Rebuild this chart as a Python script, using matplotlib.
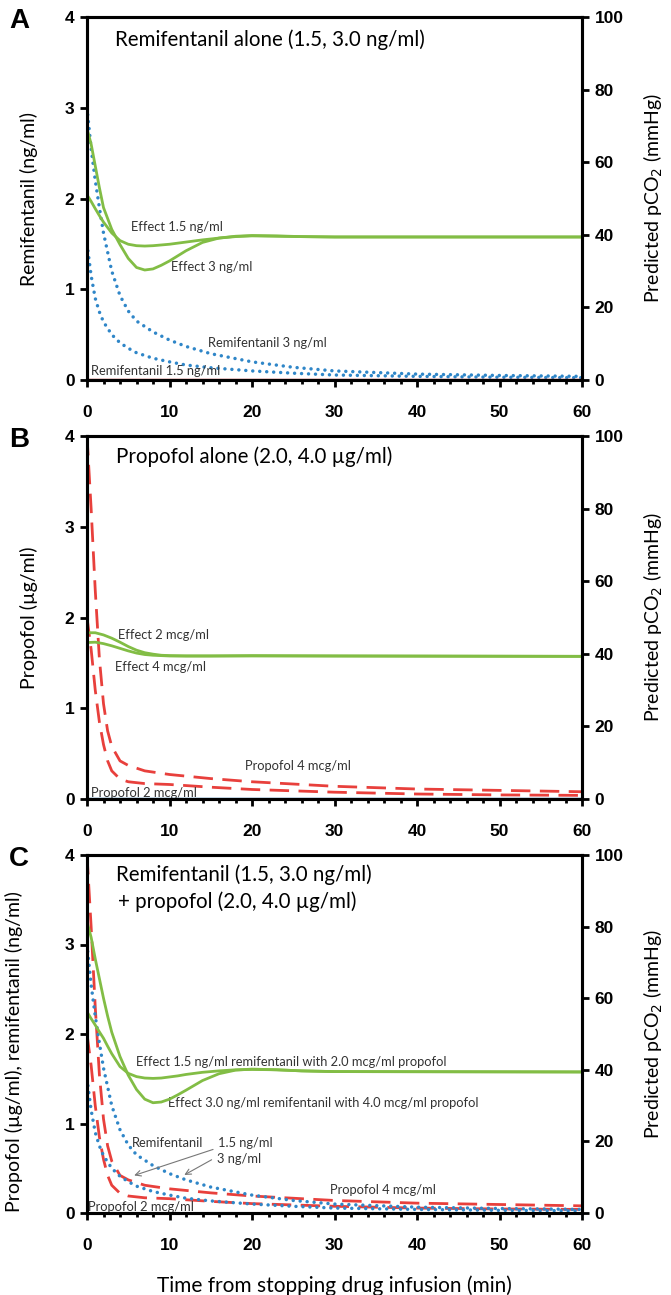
import matplotlib
matplotlib.use("Agg")
import matplotlib.pyplot as plt
from matplotlib.ticker import MultipleLocator

# time grids (min)
t_conc = [0, 0.5, 1, 1.5, 2, 3, 4, 5, 6, 8, 10, 12, 15, 20, 25, 30, 40, 50, 60]
t_prop = [0, 0.5, 1, 1.5, 2, 2.5, 3, 4, 5, 7, 10, 15, 20, 30, 40, 50, 60]

# remifentanil plasma conc (ng/ml)
remi_3 = [3.0, 2.55, 2.2, 1.9, 1.62, 1.2, 0.93, 0.76, 0.65, 0.53, 0.44, 0.37, 0.29, 0.2, 0.14, 0.1, 0.065, 0.05, 0.04]
remi_15 = [1.5, 1.15, 0.9, 0.75, 0.64, 0.5, 0.41, 0.35, 0.3, 0.24, 0.2, 0.165, 0.135, 0.1, 0.075, 0.055, 0.04, 0.03, 0.025]

# propofol plasma conc (ug/ml)
prop_4 = [4.0, 3.2, 2.3, 1.55, 1.05, 0.75, 0.58, 0.42, 0.37, 0.31, 0.27, 0.225, 0.19, 0.14, 0.11, 0.095, 0.08]
prop_2 = [2.0, 1.65, 1.2, 0.85, 0.6, 0.42, 0.31, 0.22, 0.19, 0.17, 0.16, 0.13, 0.105, 0.075, 0.055, 0.045, 0.04]

# predicted pCO2 (mmHg)
t_a = [0, 0.5, 1, 1.5, 2, 3, 4, 5, 6, 7, 8, 9, 10, 12, 14, 16, 18, 20, 23, 26, 30, 60]
pco2_a_3 = [69.3, 65, 59, 53, 47.5, 41.5, 37.3, 33.5, 31, 30.3, 30.6, 31.6, 32.8, 35.6, 37.9, 39.1, 39.6, 39.8, 39.7, 39.5, 39.4, 39.4]
pco2_a_15 = [51, 49.2, 47.2, 45.3, 43.5, 40.5, 38.4, 37.4, 37.0, 36.9, 37.0, 37.2, 37.4, 38.0, 38.6, 39.1, 39.5, 39.7, 39.6, 39.5, 39.4, 39.4]

t_b = [0, 1, 2, 3, 4, 5, 6, 7, 8, 9, 10, 12, 15, 20, 30, 60]
pco2_b_2 = [45.8, 45.8, 45.2, 44.3, 43.2, 42.0, 41.0, 40.3, 39.9, 39.6, 39.5, 39.4, 39.4, 39.5, 39.4, 39.3]
pco2_b_4 = [43.1, 43.2, 42.8, 42.2, 41.5, 40.8, 40.2, 39.8, 39.6, 39.5, 39.4, 39.4, 39.4, 39.4, 39.4, 39.3]

t_c = [0, 0.5, 1, 1.5, 2, 2.5, 3, 4, 5, 6, 7, 8, 9, 10, 11, 12, 14, 16, 18, 20, 23, 26, 30, 60]
pco2_c_hi = [81.4, 77, 71, 65.5, 60, 55, 50.5, 43.7, 38.5, 34.5, 31.8, 30.8, 31, 31.8, 33, 34.3, 37, 38.9, 39.9, 40.2, 40, 39.7, 39.5, 39.4]
pco2_c_lo = [56.2, 54.3, 52.5, 50.6, 48.8, 46.6, 44.5, 40.9, 39.0, 38.1, 37.7, 37.6, 37.7, 38.0, 38.3, 38.7, 39.3, 39.7, 40.0, 40.1, 40.0, 39.7, 39.5, 39.4]

GREEN = "#82bd45"
BLUE = "#2f86c8"
RED = "#e8403c"
TXT = "Lato"
dots = dict(color=BLUE, lw=2.5, linestyle=(0, (0.01, 2.0)), dash_capstyle="round")
dash = dict(color=RED, lw=2.0, linestyle=(0, (7, 3.4)))

fig = plt.figure(figsize=(6.71, 12.95), dpi=100)
L, W = 87 / 671, (582 - 87) / 671
boxes = [(17, 380), (436, 799), (855, 1213)]


def make_axes(top, bot, ylabel, letter):
    ax = fig.add_axes([L, 1 - bot / 1295, W, (bot - top) / 1295])
    ax2 = ax.twinx()
    ax.set_xlim(0, 60)
    ax.set_ylim(0, 4)
    ax2.set_ylim(0, 100)
    ax.xaxis.set_major_locator(MultipleLocator(10))
    ax.xaxis.set_minor_locator(MultipleLocator(2))
    ax.yaxis.set_major_locator(MultipleLocator(1))
    ax2.yaxis.set_major_locator(MultipleLocator(20))
    for a in (ax, ax2):
        for s in a.spines.values():
            s.set_linewidth(2.2)
        a.tick_params(width=2, length=5, direction="out", pad=4)
        a.tick_params(which="minor", width=2, length=3)
        for lab in a.get_xticklabels() + a.get_yticklabels():
            lab.set_fontfamily("Liberation Sans")
            lab.set_fontweight("bold")
            lab.set_fontsize(12.5)
    ax.tick_params(axis="x", which="both", pad=13)
    ax.set_ylabel(ylabel, fontsize=14, family=TXT, labelpad=19)
    ax2.set_ylabel("Predicted pCO$_2$ (mmHg)", fontsize=14, family=TXT, labelpad=13)
    fig.text(19 / 671, 1 - (top + 4) / 1295, letter, fontsize=20, fontweight="bold",
             family="Liberation Sans", ha="center", va="center")
    return ax, ax2


def note(ax, x, y, s, size=9.3):
    ax.text(x, y, s, fontsize=size, family=TXT, color="#333333", ha="left", va="center")


# A: remifentanil alone
ax, ax2 = make_axes(*boxes[0], "Remifentanil (ng/ml)", "A")
ax.plot(t_conc, remi_3, **dots)
ax.plot(t_conc, remi_15, **dots)
ax.axhline(0, color="#c0302c", lw=2.5, zorder=3)
ax2.plot(t_a, pco2_a_3, color=GREEN, lw=2)
ax2.plot(t_a, pco2_a_15, color=GREEN, lw=2)
ax.text(3.4, 3.75, "Remifentanil alone (1.5, 3.0 ng/ml)", fontsize=14.8, family=TXT, va="center")
note(ax, 5.3, 1.69, "Effect 1.5 ng/ml")
note(ax, 10.2, 1.25, "Effect 3 ng/ml")
note(ax, 14.7, 0.41, "Remifentanil 3 ng/ml")
note(ax, 0.45, 0.10, "Remifentanil 1.5 ng/ml")

# B: propofol alone
ax, ax2 = make_axes(*boxes[1], "Propofol (\u00b5g/ml)", "B")
ax.plot(t_prop, prop_4, **dash)
ax.plot(t_prop, prop_2, **dash)
ax.axhline(0, color="#1f6fae", lw=2.5, zorder=3)
ax2.plot(t_b, pco2_b_2, color=GREEN, lw=2)
ax2.plot(t_b, pco2_b_4, color=GREEN, lw=2)
ax.text(3.5, 3.77, "Propofol alone (2.0, 4.0 \u00b5g/ml)", fontsize=14.8, family=TXT, va="center")
note(ax, 3.8, 1.81, "Effect 2 mcg/ml")
note(ax, 3.4, 1.45, "Effect 4 mcg/ml")
note(ax, 19.2, 0.36, "Propofol 4 mcg/ml")
note(ax, 0.45, 0.07, "Propofol 2 mcg/ml")

# C: combination
ax, ax2 = make_axes(*boxes[2], "Propofol (\u00b5g/ml), remifentanil (ng/ml)", "C")
ax.yaxis.set_label_coords(-0.13, 0.45)
ax.plot(t_prop, prop_4, **dash)
ax.plot(t_prop, prop_2, **dash)
ax.plot(t_conc, remi_3, **dots)
ax.plot(t_conc, remi_15, **dots)
ax2.plot(t_c, pco2_c_hi, color=GREEN, lw=2)
ax2.plot(t_c, pco2_c_lo, color=GREEN, lw=2)
ax.text(3.5, 3.78, "Remifentanil (1.5, 3.0 ng/ml)", fontsize=14.8, family=TXT, va="center")
ax.text(3.7, 3.48, "+ propofol (2.0, 4.0 \u00b5g/ml)", fontsize=14.8, family=TXT, va="center")
note(ax, 5.9, 1.69, "Effect 1.5 ng/ml remifentanil with 2.0 mcg/ml propofol")
note(ax, 9.8, 1.23, "Effect 3.0 ng/ml remifentanil with 4.0 mcg/ml propofol")
note(ax, 5.4, 0.785, "Remifentanil")
note(ax, 15.9, 0.785, "1.5 ng/ml")
note(ax, 15.75, 0.60, "3 ng/ml")
note(ax, 29.4, 0.26, "Propofol 4 mcg/ml")
note(ax, 0.1, 0.07, "Propofol 2 mcg/ml")
arr = dict(arrowstyle="->", color="#777777", lw=0.8)
ax.annotate("", xy=(5.4, 0.41), xytext=(15.6, 0.72), arrowprops=arr)
ax.annotate("", xy=(11.5, 0.41), xytext=(15.4, 0.61), arrowprops=arr)
ax.set_xlabel("Time from stopping drug infusion (min)", fontsize=15, family=TXT, labelpad=16)

fig.savefig("out.png", dpi=100)
